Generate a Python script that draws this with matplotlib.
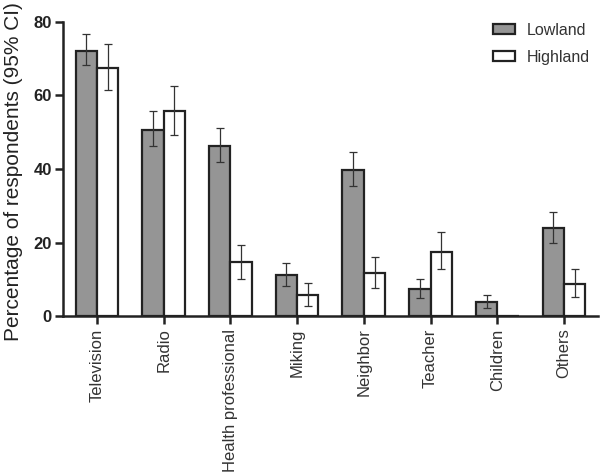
import matplotlib
matplotlib.use("Agg")
import matplotlib.pyplot as plt
import numpy as np
from matplotlib.patches import Patch

categories = ["Television", "Radio", "Health professional", "Miking", "Neighbor",
              "Teacher", "Children", "Others"]
lowland = [72.2, 50.7, 46.3, 11.2, 39.7, 7.4, 3.8, 23.9]
lowland_lo = [68.2, 46.3, 41.8, 8.3, 35.3, 5.0, 2.2, 20.0]
lowland_hi = [76.8, 55.7, 51.2, 14.5, 44.6, 10.2, 5.8, 28.2]
highland = [67.5, 55.8, 14.6, 5.8, 11.8, 17.5, 0.0, 8.7]
highland_lo = [61.4, 49.3, 10.2, 2.7, 7.6, 12.7, 0.0, 5.1]
highland_hi = [73.9, 62.6, 19.4, 9.1, 16.1, 22.8, 0.0, 12.7]
yticks = [0, 20, 40, 60, 80]

plt.rcParams['font.family'] = ['Liberation Sans', 'DejaVu Sans']

fig = plt.figure(figsize=(6.01, 4.72), dpi=100)
ax = fig.add_axes([0.1048, 0.3305, 0.8902, 0.6229])

x = np.arange(len(categories))
w = 0.32
low = np.array(lowland); hi = np.array(highland)
lerr = [low - np.array(lowland_lo), np.array(lowland_hi) - low]
herr = [hi - np.array(highland_lo), np.array(highland_hi) - hi]

edge = "#222222"
ax.bar(x - w/2, low, w, color="#959595", edgecolor=edge, linewidth=1.6, zorder=2)
ax.bar(x + w/2, hi, w, color="white", edgecolor=edge, linewidth=1.6, zorder=2)
ax.errorbar(x - w/2, low, yerr=lerr, fmt='none', ecolor="#333333", elinewidth=0.9,
            capsize=3, capthick=0.9, zorder=3)
mask = hi > 0
ax.errorbar((x + w/2)[mask], hi[mask], yerr=[herr[0][mask], herr[1][mask]], fmt='none',
            ecolor="#333333", elinewidth=0.9, capsize=3, capthick=0.9, zorder=3)

ax.set_xlim(-0.51, len(categories) - 0.49)
ax.set_ylim(0, 80)
ax.set_yticks(yticks)
ax.set_yticklabels([str(t) for t in yticks], fontweight='bold', fontsize=12, color="#222222")
ax.set_xticks(x)
ax.set_xticklabels(categories, rotation=90, fontsize=12, color="#333333")
ax.tick_params(axis='both', direction='out', length=6, width=1.8, color=edge)
ax.tick_params(axis='y', pad=2)
ax.tick_params(axis='x', pad=3)
for s in ['top', 'right']:
    ax.spines[s].set_visible(False)
for s in ['left', 'bottom']:
    ax.spines[s].set_linewidth(1.8)
    ax.spines[s].set_color(edge)
ax.spines['left'].set_bounds(0, 80)

ax.set_ylabel("Percentage of respondents (95% CI)", fontsize=15, color="#222222")
ax.yaxis.set_label_coords(-0.0745, 0.49)

handles = [Patch(facecolor="#959595", edgecolor=edge, linewidth=1.6, label="Lowland"),
           Patch(facecolor="white", edgecolor=edge, linewidth=1.6, label="Highland")]
ax.legend(handles=handles, loc='upper right', bbox_to_anchor=(1.0, 1.025), frameon=False,
          fontsize=11.5, handlelength=1.4, handleheight=0.55, handletextpad=0.75,
          labelspacing=0.75, borderaxespad=0.1, labelcolor="#333333")

fig.savefig("out.png", dpi=100)
